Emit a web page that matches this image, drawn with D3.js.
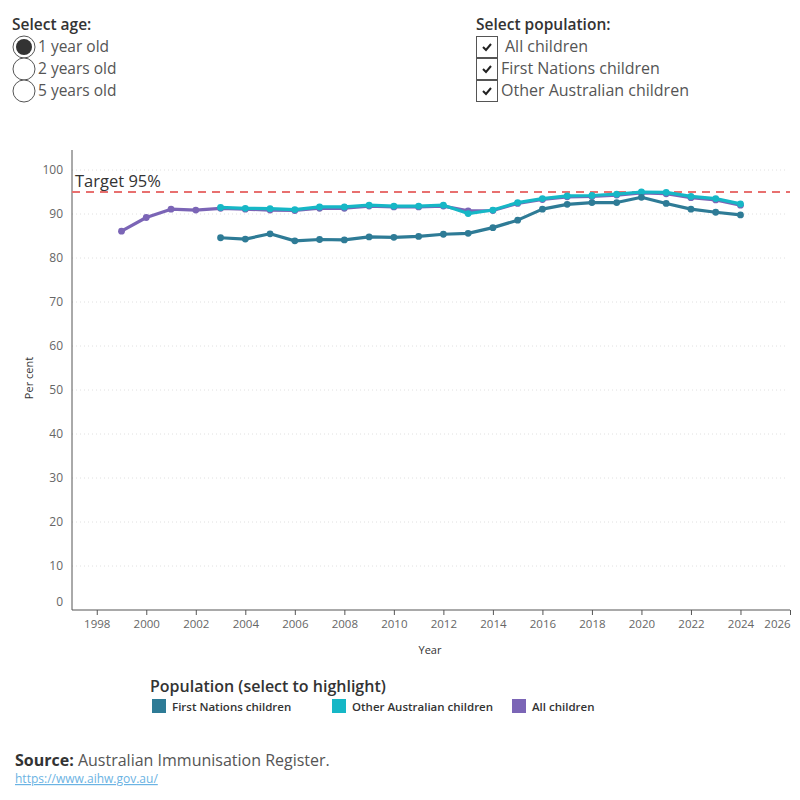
<!DOCTYPE html>
<html><head><meta charset="utf-8">
<script src="https://cdn.jsdelivr.net/npm/d3@7"></script>
<style>body{margin:0;background:#fff;} svg{display:block;font-family:"Open Sans",sans-serif;}</style>
</head><body>
<svg id="c" width="800" height="800"></svg>
<script>
const ageOptions = ["1 year old", "2 years old", "5 years old"];
const popOptions = ["All children", "First Nations children", "Other Australian children"];
const yearsAll = [1999,2000,2001,2002,2003,2004,2005,2006,2007,2008,2009,2010,2011,2012,2013,2014,2015,2016,2017,2018,2019,2020,2021,2022,2023,2024];
const allChildren = [86.1,89.2,91.1,90.9,91.3,91.1,90.9,90.8,91.3,91.3,91.8,91.6,91.6,91.8,90.7,90.8,92.4,93.3,93.9,94.0,94.3,94.8,94.6,93.7,93.2,92.0];
const yearsSplit = [2003,2004,2005,2006,2007,2008,2009,2010,2011,2012,2013,2014,2015,2016,2017,2018,2019,2020,2021,2022,2023,2024];
const firstNations = [84.6,84.3,85.5,83.9,84.2,84.1,84.8,84.7,84.9,85.4,85.6,86.9,88.6,91.1,92.2,92.6,92.6,93.8,92.4,91.1,90.4,89.8];
const otherAus = [91.5,91.3,91.2,91.0,91.6,91.6,92.0,91.8,91.8,92.0,90.1,90.9,92.6,93.5,94.1,94.2,94.5,95.0,94.9,94.0,93.5,92.3];
const xTicks = [1998,2000,2002,2004,2006,2008,2010,2012,2014,2016,2018,2020,2022,2024,2026];
const yTicks = [0,10,20,30,40,50,60,70,80,90,100];
const target = 95;
const legendItems = ["First Nations children", "Other Australian children", "All children"];
const colors = {"First Nations children":"#2E7B96","Other Australian children":"#16B7C6","All children":"#7B65B6"};

const svg = d3.select("#c");
const x = d3.scaleLinear().domain([1997, 2026]).range([72, 790]);
const y = d3.scaleLinear().domain([0, 100]).range([610, 170]);

// header controls
svg.append("text").attr("x",12).attr("y",30).attr("font-size",15.5).attr("font-weight",600).attr("fill","#333").text("Select age:");
ageOptions.forEach((t,i)=>{
  const cy = 47 + i*22;
  svg.append("circle").attr("cx",24).attr("cy",cy).attr("r",11).attr("fill","#fff").attr("stroke","#555").attr("stroke-width",1);
  if(i===0) svg.append("circle").attr("cx",24).attr("cy",cy).attr("r",8).attr("fill","#333");
  svg.append("text").attr("x",38).attr("y",cy+5).attr("font-size",15.5).attr("fill","#555").text(t);
});
svg.append("text").attr("x",476).attr("y",30).attr("font-size",15.5).attr("font-weight",600).attr("fill","#333").text("Select population:");
popOptions.forEach((t,i)=>{
  const ty = 36 + i*22;
  svg.append("rect").attr("x",476.5).attr("y",ty+0.5).attr("width",21).attr("height",21).attr("fill","#fff").attr("stroke","#555");
  svg.append("path").attr("d",`M${483},${ty+11} l3,3 l5,-6`).attr("fill","none").attr("stroke","#222").attr("stroke-width",2);
  svg.append("text").attr("x", i===0?505:501).attr("y",ty+16).attr("font-size",16).attr("fill","#555").text(t);
});

// grid
const g = svg.append("g");
g.selectAll("line.grid").data(yTicks.filter(d=>d>0)).join("line")
  .attr("x1",72).attr("x2",786).attr("y1",d=>y(d)).attr("y2",d=>y(d))
  .attr("stroke","#e0e0e0").attr("stroke-width",1).attr("stroke-dasharray","1,3");

// axes
const yAxis = d3.axisLeft(y).tickValues(yTicks).tickSize(0).tickPadding(9);
const ya = svg.append("g").attr("transform","translate(72,0)").call(yAxis);
ya.select(".domain").remove();
ya.selectAll("text").attr("font-size",12).attr("fill","#666").attr("font-family","'Open Sans',sans-serif")
  .attr("dy", d=> d===0 ? "-0.35em" : "0.32em");
svg.append("line").attr("x1",72).attr("x2",72).attr("y1",150).attr("y2",610).attr("stroke","#555");

const xAxis = d3.axisBottom(x).tickValues(xTicks).tickFormat(d3.format("d")).tickSize(5).tickPadding(5);
const xa = svg.append("g").attr("transform","translate(0,610)").call(xAxis);
xa.select(".domain").attr("d","M72,0H790").attr("stroke","#555");
xa.selectAll(".tick line").attr("stroke","#555");
xa.selectAll("text").attr("font-size",11.5).attr("fill","#666").attr("font-family","'Open Sans',sans-serif")
  .attr("dx", d=> d===2026 ? -13 : 0);

svg.append("text").attr("x",430).attr("y",654).attr("text-anchor","middle").attr("font-size",11).attr("fill","#333").text("Year");
svg.append("text").attr("transform","translate(33,378) rotate(-90)").attr("text-anchor","middle").attr("font-size",11).attr("fill","#333").text("Per cent");

// target
svg.append("line").attr("x1",72).attr("x2",790).attr("y1",y(target)).attr("y2",y(target))
  .attr("stroke","#E8706F").attr("stroke-width",2).attr("stroke-dasharray","8,6");
svg.append("text").attr("x",75).attr("y",187).attr("font-size",16.5).attr("font-weight",500).attr("fill","#333").text("Target 95%");

// series
const series = [
  {name:"All children", years:yearsAll, vals:allChildren},
  {name:"Other Australian children", years:yearsSplit, vals:otherAus},
  {name:"First Nations children", years:yearsSplit, vals:firstNations}
];
const line = d3.line().x(d=>x(d[0])).y(d=>y(d[1]));
series.forEach(s=>{
  const pts = s.years.map((yr,i)=>[yr,s.vals[i]]);
  svg.append("path").datum(pts).attr("d",line).attr("fill","none")
    .attr("stroke",colors[s.name]).attr("stroke-width",3.2).attr("stroke-linejoin","round");
  svg.append("g").selectAll("circle").data(pts).join("circle")
    .attr("cx",d=>x(d[0])).attr("cy",d=>y(d[1])).attr("r",3.4).attr("fill",colors[s.name]);
});

// legend
svg.append("text").attr("x",150).attr("y",692).attr("font-size",16).attr("font-weight",600).attr("fill","#333").text("Population (select to highlight)");
legendItems.forEach((t,i)=>{
  const lx = 152 + i*180;
  svg.append("rect").attr("x",lx).attr("y",699).attr("width",14).attr("height",14).attr("fill",colors[t]);
  svg.append("text").attr("x",lx+20).attr("y",711).attr("font-size",11.5).attr("font-weight",600).attr("fill","#333").text(t);
});

// source
const src = svg.append("text").attr("x",15).attr("y",766).attr("font-size",16).attr("fill","#555");
src.append("tspan").attr("font-weight",700).attr("fill","#333").text("Source:");
src.append("tspan").text(" Australian Immunisation Register.");
svg.append("text").attr("x",15).attr("y",783).attr("font-size",12).attr("fill","#6BB3E3").attr("text-decoration","underline").text("https://www.aihw.gov.au/");
</script>
</body></html>
